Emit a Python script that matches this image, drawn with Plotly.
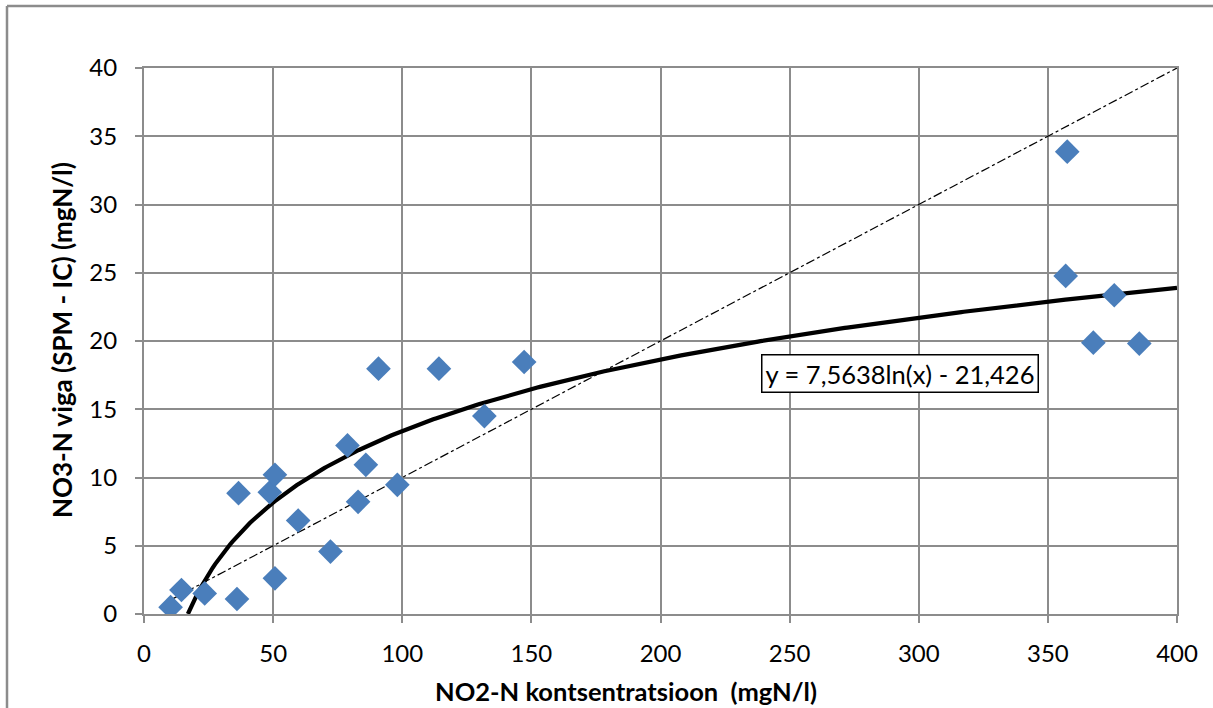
import numpy as np
import plotly.graph_objects as go

# Data
no2_x = [10.3, 14.5, 23.5, 36.0, 36.6, 48.7, 50.7, 50.7, 59.7, 72.2, 78.8, 85.9,
         82.9, 90.8, 98.1, 114.2, 147.2, 131.8, 357.5, 356.9, 375.7, 367.6, 385.4]
no3_err = [0.5, 1.76, 1.51, 1.10, 8.85, 8.92, 10.2, 2.61, 6.85, 4.57, 12.35, 10.93,
           8.22, 17.97, 9.46, 17.97, 18.46, 14.5, 33.87, 24.77, 23.35, 19.88, 19.81]

# Log trendline coefficients (from label)
coef_a = 7.5638
coef_b = -21.426
ref_x = [10, 400]
ref_y = [1, 40]

x_ticks = [0, 50, 100, 150, 200, 250, 300, 350, 400]
y_ticks = [0, 5, 10, 15, 20, 25, 30, 35, 40]

W, H = 1213, 708
L, R, T, B = 144, 36, 68, 94
pw, ph = W - L - R, H - T - B


def px(xp):
    return (xp - L) / pw


def py(yp):
    return (H - B - yp) / ph


x0 = np.exp(-coef_b / coef_a)
tx = np.linspace(x0, 400, 400)
ty = coef_a * np.log(tx) + coef_b

FONT = "Lato, Carlito, Calibri, sans-serif"
GRID = "#8c8c8c"

fig = go.Figure()
fig.add_trace(go.Scatter(x=ref_x, y=ref_y, mode="lines",
                         line=dict(color="black", width=1.2, dash="dashdot"),
                         showlegend=False, hoverinfo="skip"))
fig.add_trace(go.Scatter(x=tx, y=ty, mode="lines",
                         line=dict(color="black", width=4.2),
                         showlegend=False, hoverinfo="skip"))
fig.add_trace(go.Scatter(x=no2_x, y=no3_err, mode="markers",
                         marker=dict(symbol="diamond", size=19, color="#4a7ebb",
                                     line=dict(width=0)),
                         showlegend=False))

fig.add_annotation(x=px(900), y=py(373), xref="paper", yref="paper",
                   xanchor="center", yanchor="middle",
                   text="y = 7,5638ln(x) - 21,426", showarrow=False,
                   font=dict(family=FONT, size=25.5, color="black"),
                   bgcolor="white", bordercolor="black", borderwidth=1.5, borderpad=3)

# axis titles
fig.add_annotation(x=px(626), y=py(691), xref="paper", yref="paper",
                   xanchor="center", yanchor="middle", showarrow=False,
                   text="<b>NO2-N kontsentratsioon  (mgN/l)</b>",
                   font=dict(family=FONT, size=25.5, color="black"))
fig.add_annotation(x=px(62), y=py(340), xref="paper", yref="paper",
                   xanchor="center", yanchor="middle", showarrow=False, textangle=-90,
                   text="<b>NO3-N viga (SPM - IC) (mgN/l)</b>",
                   font=dict(family=FONT, size=26, color="black"))

# outer chart frame
fig.add_shape(type="line", xref="paper", yref="paper",
              x0=px(7), x1=px(W + 5), y0=py(6), y1=py(6),
              line=dict(color=GRID, width=2.5))
fig.add_shape(type="line", xref="paper", yref="paper",
              x0=px(7), x1=px(7), y0=py(6), y1=py(H + 10),
              line=dict(color=GRID, width=2.5))

axis_common = dict(showgrid=True, gridcolor=GRID, gridwidth=2, showline=True,
                   linecolor=GRID, linewidth=2, mirror=True, ticks="outside",
                   ticklen=7, tickcolor=GRID, tickwidth=2, zeroline=False,
                   tickfont=dict(family=FONT, size=24, color="black"))

fig.update_xaxes(range=[0, 400], tickvals=x_ticks, ticktext=[str(v) for v in x_ticks],
                 ticklabelstandoff=10, **axis_common)
fig.update_yaxes(range=[0, 40], tickvals=y_ticks, ticktext=[str(v) for v in y_ticks],
                 ticklabelstandoff=13, **axis_common)

fig.update_layout(width=W, height=H, margin=dict(l=L, r=R, t=T, b=B, autoexpand=False),
                  plot_bgcolor="white", paper_bgcolor="white")

fig.write_html("out.html", config={"displayModeBar": False},
               post_script="document.body.style.margin='0';document.body.style.overflow='hidden';")
